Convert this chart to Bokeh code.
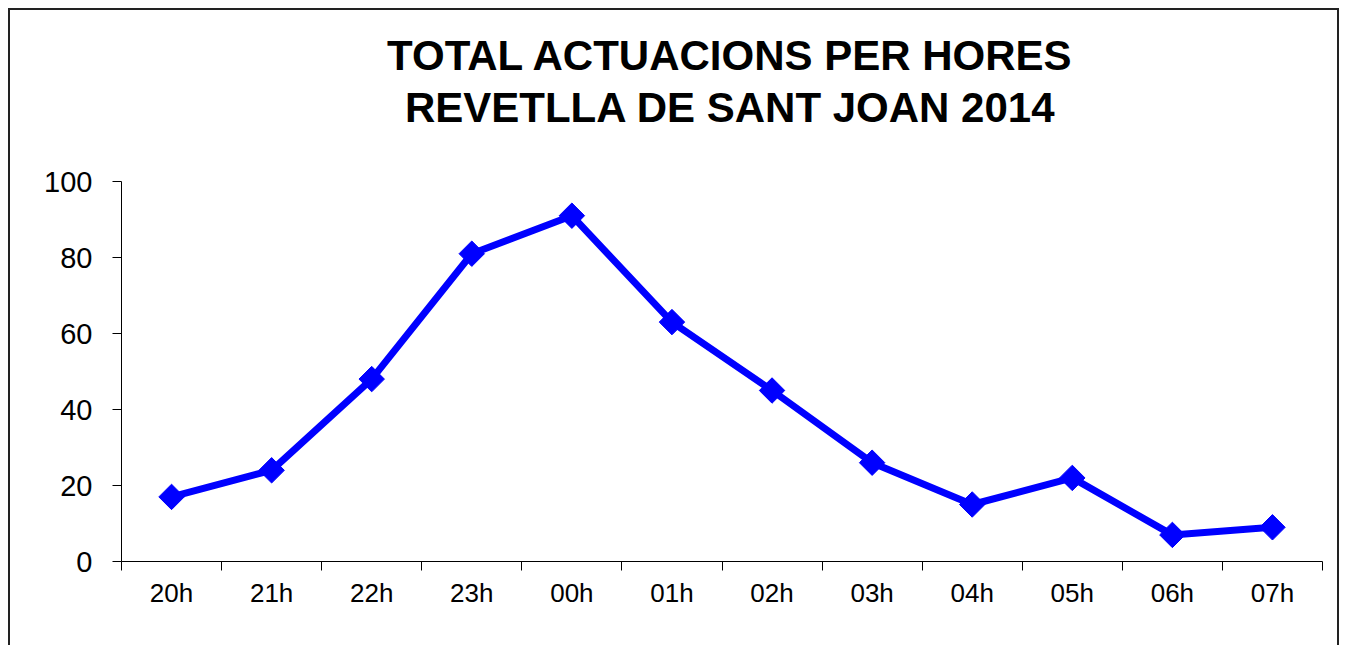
import numpy as np
from bokeh.plotting import figure
from bokeh.models import Range1d, FixedTicker, LinearAxis, Label
from bokeh.embed import file_html
from bokeh.resources import INLINE

hours = ["20h", "21h", "22h", "23h", "00h", "01h", "02h", "03h", "04h", "05h", "06h", "07h"]
actuacions = [17, 24, 48, 81, 91, 63, 45, 26, 15, 22, 7, 9]
y_ticks = [0, 20, 40, 60, 80, 100]
title_lines = ["TOTAL ACTUACIONS PER HORES", "REVETLLA DE SANT JOAN 2014"]

FONT = "Liberation Sans"
n = len(hours)
xs = np.arange(n) + 0.5

# layout (pixels)
FIG_W, FIG_H = 1331, 637
B_LEFT, B_RIGHT, B_BOTTOM = 111, 19, 86
PLOT_H = 380            # height of the 0..100 band
frame_h = FIG_H - B_BOTTOM
y_top = max(y_ticks) * frame_h / PLOT_H   # room above 100 for the title

p = figure(width=FIG_W, height=FIG_H, output_backend="svg", toolbar_location=None,
           x_range=Range1d(0, n), y_range=Range1d(0, y_top),
           x_axis_type=None, y_axis_type=None)
p.margin = (8, 0, 0, 8)
p.min_border_left = B_LEFT
p.min_border_right = B_RIGHT
p.min_border_top = 0
p.min_border_bottom = B_BOTTOM
p.outline_line_color = None
p.background_fill_color = "white"
p.border_fill_color = "white"
p.styles = {"border-left": "2px solid #222", "border-top": "2px solid #222",
            "border-right": "2px solid #222", "box-sizing": "border-box"}

# y axis
yax = LinearAxis(ticker=FixedTicker(ticks=y_ticks), bounds=(0, max(y_ticks)))
yax.axis_line_color = "black"
yax.axis_line_width = 1
yax.major_tick_out = 9
yax.major_tick_in = 0
yax.major_tick_line_color = "black"
yax.minor_tick_line_color = None
yax.major_label_text_font = FONT
yax.major_label_text_font_size = "29px"
yax.major_label_text_color = "black"
yax.major_label_standoff = 20
p.add_layout(yax, "left")

# x axis: labels at category centres, tick marks at category boundaries
xax = LinearAxis(ticker=FixedTicker(ticks=list(xs), minor_ticks=list(range(n + 1))))
xax.major_label_overrides = {float(x): h for x, h in zip(xs, hours)}
xax.axis_line_color = "black"
xax.major_tick_out = 0
xax.major_tick_in = 0
xax.minor_tick_out = 9
xax.minor_tick_in = 0
xax.minor_tick_line_color = "black"
xax.major_label_text_font = FONT
xax.major_label_text_font_size = "26px"
xax.major_label_text_color = "black"
xax.major_label_standoff = 7
p.add_layout(xax, "below")

p.ygrid.ticker = FixedTicker(ticks=y_ticks)
p.ygrid.grid_line_color = "black"
p.ygrid.grid_line_width = 1
p.xgrid.visible = False

p.line(xs, actuacions, line_color="#0000FF", line_width=7)
p.scatter(xs, actuacions, marker="square", angle=np.pi / 4, size=18,
          fill_color="#0000FF", line_color="#0000FF")

# two-line title (screen offsets from the frame's bottom-left corner)
for txt, ypos in zip(title_lines, [506, 454]):
    p.add_layout(Label(x=609, y=ypos, x_units="screen", y_units="screen", text=txt,
                       text_align="center", text_baseline="alphabetic",
                       text_font=FONT, text_font_size="42px", text_font_style="bold",
                       text_color="black"))

open("out.html", "w").write(file_html(p, INLINE))
